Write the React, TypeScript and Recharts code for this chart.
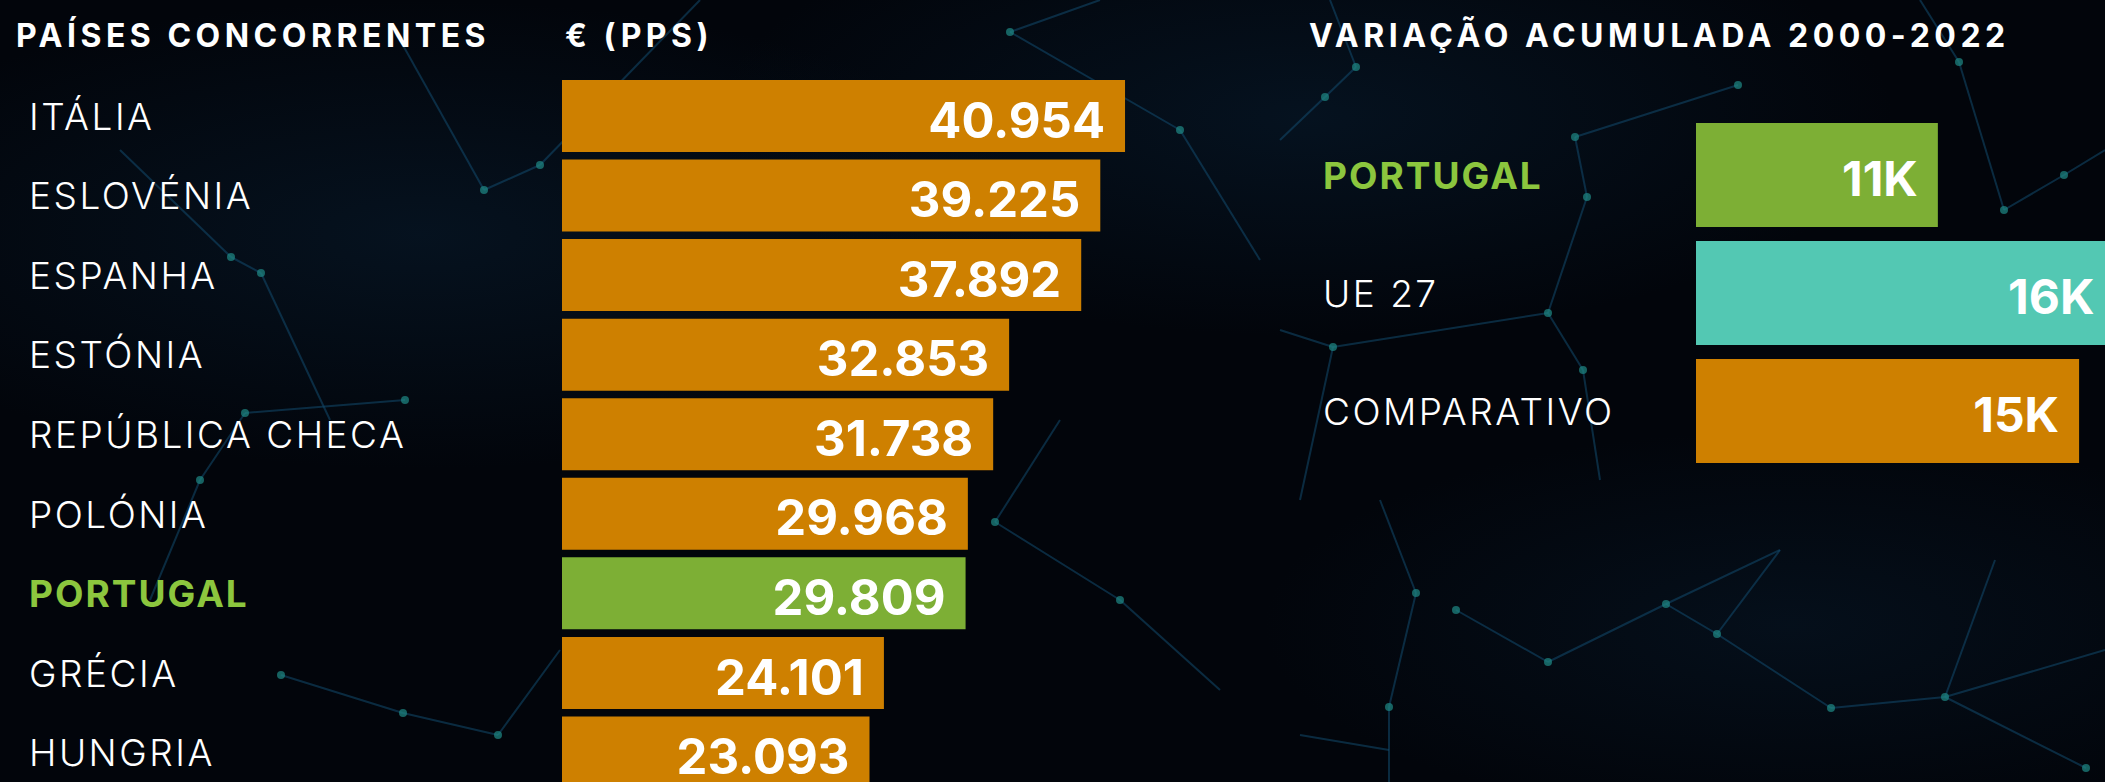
import React from 'react';
import { BarChart, Bar, XAxis, YAxis, Cell, LabelList } from 'recharts';

// ---------- data ----------
const countries = ['ITÁLIA', 'ESLOVÉNIA', 'ESPANHA', 'ESTÓNIA', 'REPÚBLICA CHECA', 'POLÓNIA', 'PORTUGAL', 'GRÉCIA', 'HUNGRIA'];
const ppsValues = [40954, 39225, 37892, 32853, 31738, 29968, 29809, 24101, 23093];
const variationLabels = ['PORTUGAL', 'UE 27', 'COMPARATIVO'];
const variationValues = [11, 16, 15]; // thousands of €
const headerLeft = 'PAÍSES CONCORRENTES';
const headerUnit = '€ (PPS)';
const headerRight = 'VARIAÇÃO ACUMULADA 2000-2022';
const highlight = 'PORTUGAL';

// decorative background network (not data)
const netEdges: number[][] = [
  [1416, 593, 1389, 707], [1456, 610, 1548, 662], [1548, 662, 1666, 604], [1666, 604, 1717, 634],
  [1717, 634, 1831, 708], [1831, 708, 1945, 697], [1945, 697, 2086, 768], [1666, 604, 1780, 550],
  [1717, 634, 1780, 550], [1945, 697, 1995, 560], [1945, 697, 2105, 650], [1389, 750, 1300, 735],
  [1416, 593, 1380, 500], [1389, 707, 1389, 782],
  [1325, 97, 1356, 67], [1325, 97, 1280, 140], [1356, 67, 1330, 0], [1575, 137, 1738, 85],
  [1575, 137, 1587, 197], [1587, 197, 1548, 313], [1548, 313, 1333, 347], [1548, 313, 1583, 370],
  [1333, 347, 1280, 330], [1333, 347, 1300, 500], [2064, 175, 2004, 210], [2004, 210, 1959, 62],
  [2064, 175, 2105, 150], [1959, 62, 1920, 0], [1583, 370, 1600, 480],
  [484, 190, 540, 165], [484, 190, 400, 40], [540, 165, 700, 0], [231, 257, 261, 273],
  [261, 273, 330, 420], [231, 257, 120, 150], [1010, 32, 1100, 0], [1010, 32, 1180, 130],
  [405, 400, 245, 413], [200, 480, 245, 413], [200, 480, 150, 600], [281, 675, 403, 713],
  [403, 713, 498, 735], [498, 735, 560, 650], [995, 522, 1120, 600], [995, 522, 1060, 420],
  [1180, 130, 1260, 260], [1120, 600, 1220, 690],
];
const netNodes: number[][] = [
  [1416, 593], [1456, 610], [1548, 662], [1666, 604], [1717, 634], [1831, 708], [1945, 697],
  [2086, 768], [1389, 707], [1325, 97], [1356, 67], [1575, 137], [1587, 197], [1738, 85],
  [1548, 313], [1333, 347], [1583, 370], [2064, 175], [2004, 210], [1959, 62], [484, 190],
  [540, 165], [231, 257], [261, 273], [1010, 32], [405, 400], [245, 413], [200, 480],
  [281, 675], [403, 713], [498, 735], [995, 522], [1180, 130], [1120, 600],
];

// ---------- styles ----------
const FONT = 'Inter, "Noto Sans", sans-serif';
const ORANGE = '#CE8000';
const GREEN_BAR = '#7DAF35';
const TEAL = '#53C8B3';
const GREEN_TEXT = '#8CC63E';

const leftData = countries.map((name, i) => ({ name, value: ppsValues[i] }));
const rightData = variationLabels.map((name, i) => ({ name, value: variationValues[i] }));
const rightColors = [GREEN_BAR, TEAL, ORANGE];

const fmtThousands = (v: number) => String(v).replace(/\B(?=(\d{3})+(?!\d))/g, '.');

const makeTick = (labelX: number) => (props: any) => {
  const { y, payload } = props;
  const isHL = payload.value === highlight;
  return (
    <text
      x={labelX}
      y={y}
      dy={14}
      textAnchor="start"
      fill={isHL ? GREEN_TEXT : '#ffffff'}
      fontFamily={FONT}
      fontWeight={isHL ? 700 : 300}
      fontSize={37}
      letterSpacing={isHL ? 2 : 2.5}
    >
      {payload.value}
    </text>
  );
};

const makeValueLabel = (fmt: (v: number) => string, size: number) => (props: any) => {
  const { x, y, width, height, value } = props;
  return (
    <text
      x={x + width - 20}
      y={y + height / 2}
      dy={size * 0.36 + 4}
      textAnchor="end"
      fill="#ffffff"
      fontFamily={FONT}
      fontWeight={700}
      fontSize={size}
    >
      {fmt(value)}
    </text>
  );
};

const Background = () => (
  <svg width={2105} height={782} style={{ position: 'absolute', left: 0, top: 0 }}>
    <defs>
      <radialGradient id="g1" cx="0.2" cy="0.3" r="0.3">
        <stop offset="0" stopColor="#0c2a44" stopOpacity={0.35} />
        <stop offset="1" stopColor="#0c2a44" stopOpacity={0} />
      </radialGradient>
      <radialGradient id="g2" cx="0.62" cy="0.15" r="0.28">
        <stop offset="0" stopColor="#0b2a45" stopOpacity={0.35} />
        <stop offset="1" stopColor="#0b2a45" stopOpacity={0} />
      </radialGradient>
      <radialGradient id="g3" cx="0.85" cy="0.8" r="0.25">
        <stop offset="0" stopColor="#0a2238" stopOpacity={0.35} />
        <stop offset="1" stopColor="#0a2238" stopOpacity={0} />
      </radialGradient>
    </defs>
    <rect x={0} y={0} width={2105} height={782} fill="#02050b" />
    <rect x={0} y={0} width={2105} height={782} fill="url(#g1)" />
    <rect x={0} y={0} width={2105} height={782} fill="url(#g2)" />
    <rect x={0} y={0} width={2105} height={782} fill="url(#g3)" />
    <g stroke="#124a6e" strokeWidth={2} strokeOpacity={0.55}>
      {netEdges.map((e, i) => (
        <line key={i} x1={e[0]} y1={e[1]} x2={e[2]} y2={e[3]} />
      ))}
    </g>
    <g fill="#1f8a86" fillOpacity={0.7}>
      {netNodes.map((n, i) => (
        <circle key={i} cx={n[0]} cy={n[1]} r={4} />
      ))}
    </g>
  </svg>
);

const headerStyle = { fontFamily: FONT, fontWeight: 700, fontSize: 32, letterSpacing: 4.5 } as const;

const Headers = () => (
  <svg width={2105} height={782} style={{ position: 'absolute', left: 0, top: 0, pointerEvents: 'none' }}>
    <text x={16} y={47} fill="#fff" {...headerStyle}>{headerLeft}</text>
    <text x={565} y={47} fill="#fff" {...headerStyle}>{headerUnit}</text>
    <text x={1309} y={47} fill="#fff" {...headerStyle}>{headerRight}</text>
  </svg>
);

export default function App() {
  return (
    <div style={{ position: 'absolute', left: 0, top: 0, width: 2105, height: 782, overflow: 'hidden', background: '#02050b' }}>
      <Background />
      <div style={{ position: 'absolute', left: 0, top: 0 }}>
        <BarChart
          width={1140}
          height={800}
          data={leftData}
          layout="vertical"
          margin={{ top: 76, right: 0, bottom: 8, left: 0 }}
        >
          <XAxis type="number" hide domain={[1600, 42000]} allowDataOverflow />
          <YAxis
            type="category"
            dataKey="name"
            width={562}
            axisLine={false}
            tickLine={false}
            interval={0}
            tick={makeTick(29)}
          />
          <Bar dataKey="value" barSize={72} isAnimationActive={false}>
            {leftData.map((d) => (
              <Cell key={d.name} fill={d.name === highlight ? GREEN_BAR : ORANGE} />
            ))}
            <LabelList dataKey="value" content={makeValueLabel(fmtThousands, 49)} />
          </Bar>
        </BarChart>
      </div>
      <div style={{ position: 'absolute', left: 1280, top: 0 }}>
        <BarChart
          width={845}
          height={500}
          data={rightData}
          layout="vertical"
          margin={{ top: 116, right: 0, bottom: 30, left: 0 }}
        >
          <XAxis type="number" hide domain={[4.15, 16.3]} allowDataOverflow />
          <YAxis
            type="category"
            dataKey="name"
            width={416}
            axisLine={false}
            tickLine={false}
            interval={0}
            tick={makeTick(43)}
          />
          <Bar dataKey="value" barSize={104} isAnimationActive={false}>
            {rightData.map((d, i) => (
              <Cell key={d.name} fill={rightColors[i]} />
            ))}
            <LabelList dataKey="value" content={makeValueLabel((v) => `${v}K`, 48)} />
          </Bar>
        </BarChart>
      </div>
      <Headers />
    </div>
  );
}
